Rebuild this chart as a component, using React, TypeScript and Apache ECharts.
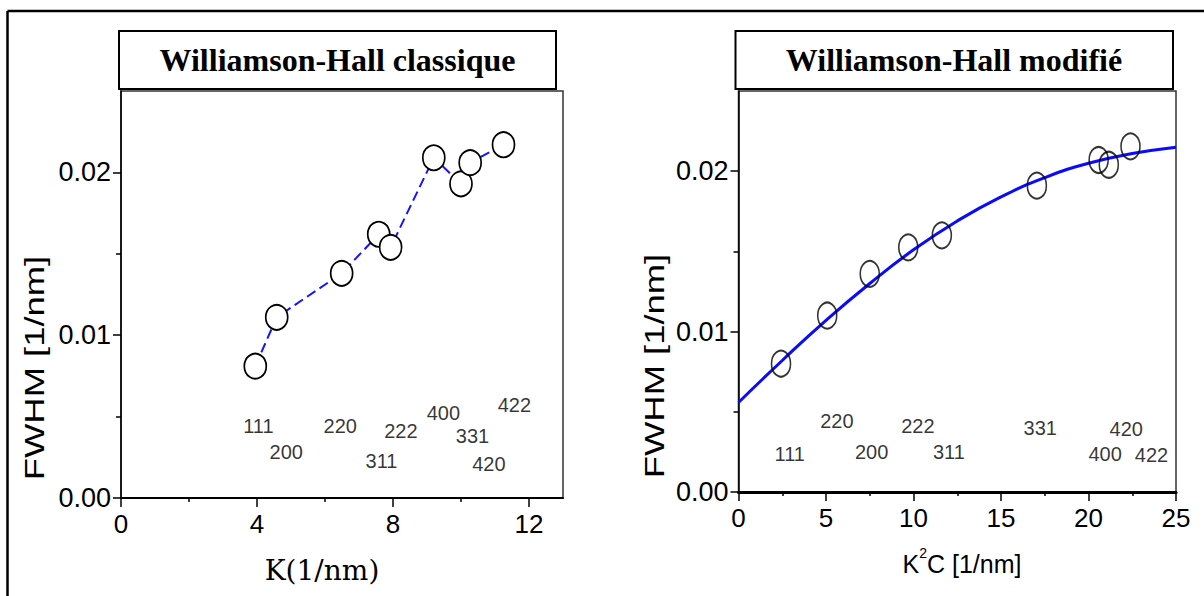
import React, { useEffect, useRef } from "react";
import * as echarts from "echarts";

// ---- Data: classical Williamson-Hall ----
const leftK = [3.95, 4.58, 6.49, 7.58, 7.93, 9.2, 10.0, 10.27, 11.25];
const leftFWHM = [0.0081, 0.0111, 0.0138, 0.0162, 0.0154, 0.0209, 0.0193, 0.0206, 0.0217];
const leftHkl = ["111", "200", "220", "311", "222", "400", "331", "420", "422"];
const leftHklX = [4.04, 4.86, 6.45, 7.66, 8.23, 9.48, 10.34, 10.82, 11.57];
const leftHklY = [0.0044, 0.0028, 0.0044, 0.0023, 0.0041, 0.0052, 0.0038, 0.0021, 0.0057];

// ---- Data: modified Williamson-Hall ----
const rightK2C = [2.43, 5.07, 7.5, 9.7, 11.62, 17.05, 20.58, 21.16, 22.4];
const rightFWHM = [0.008, 0.011, 0.0136, 0.01525, 0.016, 0.0191, 0.0207, 0.0204, 0.02155];
const rightHkl = ["111", "220", "200", "222", "311", "331", "420", "400", "422"];
const rightHklX = [2.93, 5.62, 7.61, 10.25, 12.02, 17.24, 22.16, 20.95, 23.6];
const rightHklY = [0.0024, 0.0044, 0.0025, 0.0041, 0.0025, 0.004, 0.0039, 0.0024, 0.0023];

// fitted curve
const fitX = [0, 2.5, 5, 7.5, 10, 12.5, 15, 17.5, 20, 22.5, 25];
const fitY = [0.00558, 0.0082, 0.0107, 0.013, 0.0151, 0.0169, 0.0184, 0.0196, 0.0205, 0.0211, 0.0215];

// ---- Ticks ----
const leftXTicks = [0, 4, 8, 12];
const leftXMinor = [2, 6, 10];
const rightXTicks = [0, 5, 10, 15, 20, 25];
const rightXMinor = [2.5, 7.5, 12.5, 17.5, 22.5];
const yTicks = [0, 0.01, 0.02];
const yMinor = [0.005, 0.015];

const titles = ["Williamson-Hall classique", "Williamson-Hall modifié"];
const yName = "FWHM [1/nm]";
const leftXName = "K(1/nm)";

const SANS = '"Liberation Sans", Arial, sans-serif';
const SERIF = '"Liberation Serif", "Times New Roman", serif';

function majorX(grid: number, max: number, ticks: number[], lineWidth: number) {
  return {
    gridIndex: grid, type: "value", min: 0, max, position: "bottom",
    axisLine: { show: true, lineStyle: { color: "#000", width: lineWidth } },
    axisTick: { show: true, customValues: ticks, length: 9, lineStyle: { color: "#000", width: 1.5 } },
    axisLabel: { customValues: ticks, fontSize: 26, color: "#000", margin: 13, fontFamily: SANS },
    splitLine: { show: false },
  };
}
function minorX(grid: number, max: number, ticks: number[]) {
  return {
    gridIndex: grid, type: "value", min: 0, max, position: "bottom",
    axisLine: { show: false },
    axisTick: { show: true, customValues: ticks, length: 4, lineStyle: { color: "#000", width: 1.5 } },
    axisLabel: { show: false },
    splitLine: { show: false },
  };
}
function majorY(grid: number) {
  return {
    gridIndex: grid, type: "value", min: 0, max: 0.025, position: "left",
    axisLine: { show: true, lineStyle: { color: "#000", width: 1.5 } },
    axisTick: { show: true, customValues: yTicks, length: 8, lineStyle: { color: "#000", width: 1.5 } },
    axisLabel: {
      customValues: yTicks, fontSize: 27, color: "#000", margin: 10, fontFamily: SANS,
      formatter: (v: number) => v.toFixed(2),
    },
    splitLine: { show: false },
  };
}
function minorY(grid: number) {
  return {
    gridIndex: grid, type: "value", min: 0, max: 0.025, position: "left",
    axisLine: { show: false },
    axisTick: { show: true, customValues: yMinor, length: 5, lineStyle: { color: "#000", width: 1.5 } },
    axisLabel: { show: false },
    splitLine: { show: false },
  };
}
function hklSeries(names: string[], xs: number[], ys: number[], xi: number, yi: number) {
  return {
    type: "scatter", xAxisIndex: xi, yAxisIndex: yi, silent: true, z: 5,
    symbolSize: 1, itemStyle: { color: "transparent" },
    data: names.map((n, i) => ({ name: n, value: [xs[i], ys[i]] })),
    label: { show: true, position: "inside", formatter: "{b}", fontSize: 20, color: "#000", fontFamily: SANS },
  };
}

export default function App() {
  const ref = useRef<HTMLDivElement>(null);
  useEffect(() => {
    if (!ref.current) return;
    const chart = echarts.init(ref.current, undefined, { renderer: "svg" });
    const option: any = {
      animation: false,
      backgroundColor: "#fff",
      grid: [
        { left: 121, top: 91, width: 442, height: 407, show: true, borderColor: "#333", borderWidth: 1.5 },
        { left: 738.5, top: 91, width: 437.5, height: 401, show: true, borderColor: "#333", borderWidth: 1.5 },
      ],
      xAxis: [
        majorX(0, 13, leftXTicks, 2),
        minorX(0, 13, leftXMinor),
        majorX(1, 25, rightXTicks, 3),
        minorX(1, 25, rightXMinor),
      ],
      yAxis: [majorY(0), minorY(0), majorY(1), minorY(1)],
      series: [
        {
          type: "line", xAxisIndex: 0, yAxisIndex: 0, silent: true, z: 3,
          data: leftK.map((k, i) => [k, leftFWHM[i]]),
          symbol: "circle", symbolSize: [22, 25], showSymbol: true,
          itemStyle: { color: "#fff", borderColor: "#000", borderWidth: 1.8 },
          lineStyle: { color: "#1414ff", width: 2, type: [10, 5] },
        },
        hklSeries(leftHkl, leftHklX, leftHklY, 0, 0),
        {
          type: "line", xAxisIndex: 2, yAxisIndex: 2, silent: true, z: 3,
          data: fitX.map((x, i) => [x, fitY[i]]),
          smooth: true, showSymbol: false, symbol: "none",
          lineStyle: { color: "#0a0aff", width: 3 },
        },
        {
          type: "scatter", xAxisIndex: 2, yAxisIndex: 2, silent: true, z: 4,
          data: rightK2C.map((k, i) => [k, rightFWHM[i]]),
          symbol: "circle", symbolSize: [19, 26],
          itemStyle: { color: "rgba(0,0,0,0)", borderColor: "#000", borderWidth: 1.8 },
        },
        hklSeries(rightHkl, rightHklX, rightHklY, 2, 2),
      ],
      graphic: [
        { type: "line", shape: { x1: 7.5, y1: 11, x2: 1204, y2: 11 }, style: { stroke: "#000", lineWidth: 2.5 } },
        { type: "line", shape: { x1: 7.5, y1: 11, x2: 7.5, y2: 596 }, style: { stroke: "#000", lineWidth: 2.5 } },
        { type: "rect", shape: { x: 119, y: 31, width: 437, height: 58 }, style: { fill: "#fff", stroke: "#000", lineWidth: 2 }, z: 10 },
        { type: "rect", shape: { x: 735.5, y: 31, width: 437.5, height: 58 }, style: { fill: "#fff", stroke: "#000", lineWidth: 2 }, z: 10 },
        {
          type: "text", x: 337.5, y: 60, z: 11,
          style: { text: titles[0], fontSize: 32, fontWeight: "bold", fontFamily: SERIF, fill: "#000", align: "center", verticalAlign: "middle" },
        },
        {
          type: "text", x: 954, y: 60, z: 11,
          style: { text: titles[1], fontSize: 32, fontWeight: "bold", fontFamily: SERIF, fill: "#000", align: "center", verticalAlign: "middle" },
        },
        {
          type: "text", x: 35, y: 368, rotation: Math.PI / 2, scaleX: 1.3, z: 11,
          style: { text: yName, fontSize: 28, fontFamily: SANS, fill: "#000", align: "center", verticalAlign: "middle" },
        },
        {
          type: "text", x: 655, y: 366, rotation: Math.PI / 2, scaleX: 1.3, z: 11,
          style: { text: yName, fontSize: 28, fontFamily: SANS, fill: "#000", align: "center", verticalAlign: "middle" },
        },
        {
          type: "text", x: 322, y: 570, z: 11,
          style: { text: leftXName, fontSize: 28, fontFamily: '"DejaVu Serif", serif', fill: "#000", align: "center", verticalAlign: "middle" },
        },
        {
          type: "text", x: 962, y: 561, z: 11,
          style: {
            text: "{a|K}{s|2}{a|C [1/nm]}",
            align: "center", verticalAlign: "middle",
            rich: {
              a: { fontSize: 25, fontFamily: SANS, fill: "#000", lineHeight: 30, verticalAlign: "bottom" },
              s: { fontSize: 14, fontFamily: SANS, fill: "#000", lineHeight: 14, verticalAlign: "top" },
            },
          },
        },
      ],
    };
    chart.setOption(option);
    return () => chart.dispose();
  }, []);
  return (
    <div
      ref={ref}
      style={{ position: "fixed", left: 0, top: 0, width: 1204, height: 596, background: "#fff" }}
    />
  );
}
